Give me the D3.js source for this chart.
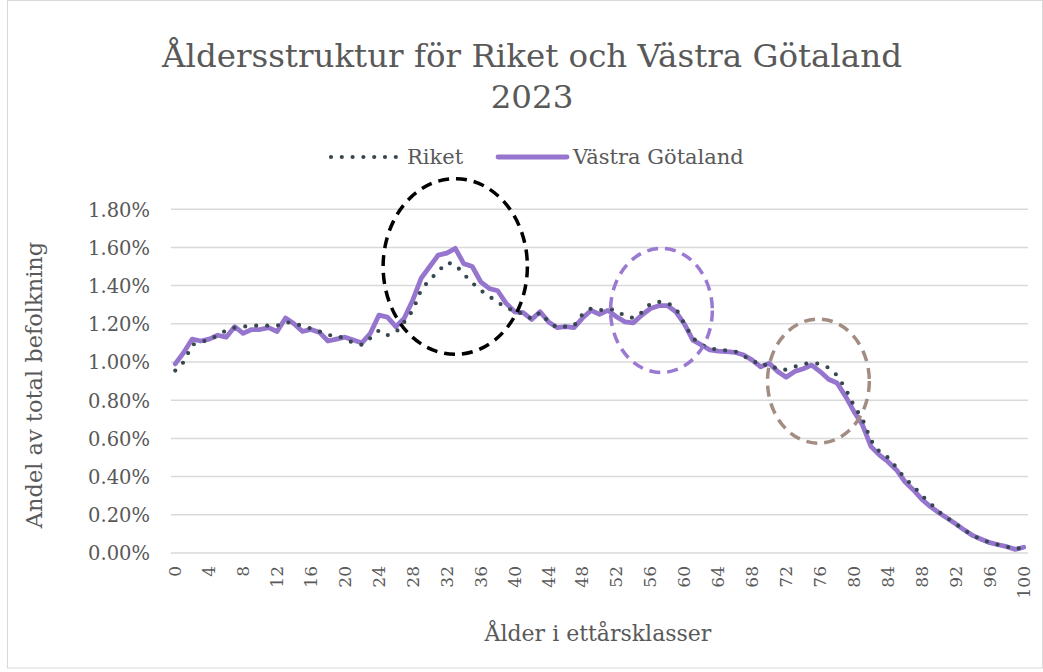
<!DOCTYPE html>
<html>
<head>
<meta charset="utf-8">
<script src="https://cdn.jsdelivr.net/npm/d3@7"></script>
<style>
  body { margin: 0; background: #fff; }
  text { font-family: "DejaVu Serif", Georgia, serif; fill: #595959; }
</style>
</head>
<body>
<div id="chart"></div>
<script>
// ages 0..100 (ettårsklasser)
var ages = d3.range(0, 101);
var xTickAges = d3.range(0, 101, 4);
var yTicks = [0, 0.2, 0.4, 0.6, 0.8, 1.0, 1.2, 1.4, 1.6, 1.8];

// andel av total befolkning, %
var riket = [
  0.955, 1.00, 1.09, 1.105, 1.115, 1.14, 1.165, 1.18, 1.185, 1.19,
  1.19, 1.19, 1.19, 1.21, 1.20, 1.19, 1.175, 1.16, 1.14, 1.14,
  1.12, 1.10, 1.09, 1.125, 1.165, 1.14, 1.155, 1.21, 1.27, 1.38,
  1.43, 1.475, 1.52, 1.51, 1.46, 1.415, 1.375, 1.345, 1.31, 1.29,
  1.26, 1.255, 1.225, 1.26, 1.21, 1.18, 1.185, 1.19, 1.25, 1.28,
  1.27, 1.28, 1.27, 1.24, 1.23, 1.26, 1.305, 1.315, 1.31, 1.28,
  1.20, 1.125, 1.09, 1.07, 1.065, 1.06, 1.055, 1.03, 1.01, 0.98,
  0.99, 0.96, 0.96, 0.975, 0.99, 0.995, 0.99, 0.97, 0.93, 0.86,
  0.77, 0.70, 0.59, 0.53, 0.50, 0.447, 0.39, 0.35, 0.30, 0.26,
  0.215, 0.183, 0.152, 0.12, 0.091, 0.072, 0.054, 0.043, 0.033, 0.02,
  0.03
];
var vastraGotaland = [
  0.99, 1.05, 1.12, 1.11, 1.12, 1.14, 1.13, 1.185, 1.15, 1.17,
  1.17, 1.18, 1.16, 1.23, 1.20, 1.16, 1.17, 1.155, 1.11, 1.12,
  1.13, 1.115, 1.10, 1.15, 1.245, 1.235, 1.185, 1.23, 1.325, 1.44,
  1.50, 1.56, 1.57, 1.595, 1.515, 1.50, 1.42, 1.385, 1.373, 1.307,
  1.263, 1.258, 1.223, 1.263, 1.21, 1.18, 1.185, 1.18, 1.23, 1.27,
  1.25, 1.27, 1.237, 1.21, 1.205, 1.246, 1.28, 1.295, 1.295, 1.263,
  1.20, 1.115, 1.09, 1.063, 1.057, 1.054, 1.05, 1.037, 1.01, 0.975,
  0.993, 0.95, 0.92, 0.95, 0.965, 0.984, 0.95, 0.91, 0.89, 0.82,
  0.74, 0.67, 0.557, 0.513, 0.478, 0.435, 0.373, 0.33, 0.281, 0.243,
  0.211, 0.182, 0.152, 0.12, 0.091, 0.072, 0.054, 0.043, 0.033, 0.019,
  0.03
];

// highlighted regions: centre age, centre value, half width (years), half height (%)
var highlights = [
  { age: 33, value: 1.50, rx: 8.5, ry: 0.46, color: "#000000" },
  { age: 57.3, value: 1.27, rx: 6.0, ry: 0.325, color: "#9a79d2" },
  { age: 75.8, value: 0.90, rx: 6.0, ry: 0.325, color: "#a38d83" }
];

var W = 1043, H = 672;
var margin = { left: 171, right: 15, top: 200, bottom: 119 };
var plotW = W - margin.left - margin.right;   // 857

var svg = d3.select("#chart").append("svg").attr("width", W).attr("height", H);

svg.append("rect").attr("x", 7.5).attr("y", 0.5).attr("width", W - 8).attr("height", H - 4.5)
  .attr("fill", "#fff").attr("stroke", "#d9d9d9").attr("stroke-width", 1);

var x = d3.scaleBand().domain(ages).range([margin.left, margin.left + plotW]);
var cx = function (a) { return x(a) + x.bandwidth() / 2; };
// continuous version of the category axis, for the annotations
var xc = d3.scaleLinear().domain([0, 100]).range([cx(0), cx(100)]);
var y = d3.scaleLinear().domain([0, 1.8]).range([553, 553 - 1.8 / 0.2 * 38.2]);

// title
svg.append("text").attr("x", 532).attr("y", 67).attr("text-anchor", "middle")
  .style("font-size", "32.5px").text("Åldersstruktur för Riket och Västra Götaland");
svg.append("text").attr("x", 532).attr("y", 108).attr("text-anchor", "middle")
  .style("font-size", "32.5px").text("2023");

// grid
svg.append("g").selectAll("line").data(yTicks).join("line")
  .attr("x1", margin.left).attr("x2", margin.left + plotW)
  .attr("y1", d => y(d)).attr("y2", d => y(d))
  .attr("stroke", "#d9d9d9").attr("stroke-width", 1.5);

// y axis labels
var yAxis = d3.axisLeft(y).tickValues(yTicks).tickSize(0).tickPadding(0)
  .tickFormat(d => d3.format(".2f")(d) + "%");
var gy = svg.append("g").attr("transform", "translate(150,0)").call(yAxis);
gy.select(".domain").remove();
gy.selectAll("text").style("font-size", "19.5px").attr("dy", "0.35em");

// x axis labels
var xAxis = d3.axisBottom(x).tickValues(xTickAges).tickSize(0).tickPadding(0);
var gx = svg.append("g").attr("transform", "translate(0,553)").call(xAxis);
gx.select(".domain").remove();
gx.selectAll("text").style("font-size", "17px")
  .attr("transform", "rotate(-90)").attr("text-anchor", "end")
  .attr("x", -13).attr("y", 0).attr("dy", "0.35em");

// axis titles
svg.append("text").attr("transform", "translate(42,385) rotate(-90)").attr("text-anchor", "middle")
  .style("font-size", "22.5px").text("Andel av total befolkning");
svg.append("text").attr("x", 598).attr("y", 641).attr("text-anchor", "middle")
  .style("font-size", "22px").text("Ålder i ettårsklasser");

// lines
var line = d3.line().x((d, i) => cx(ages[i])).y(d => y(d));

svg.append("path").datum(vastraGotaland).attr("d", line)
  .attr("fill", "none").attr("stroke", "#9575cd").attr("stroke-width", 4.8)
  .attr("stroke-linejoin", "round").attr("stroke-linecap", "round");

svg.append("path").datum(riket).attr("d", line)
  .attr("fill", "none").attr("stroke", "#37474f").attr("stroke-width", 4.2)
  .attr("stroke-dasharray", "0 11").attr("stroke-linecap", "round");

// highlight ellipses
svg.append("g").selectAll("ellipse").data(highlights).join("ellipse")
  .attr("cx", d => xc(d.age)).attr("cy", d => y(d.value))
  .attr("rx", d => xc(d.rx) - xc(0)).attr("ry", d => y(0) - y(d.ry))
  .attr("fill", "none").attr("stroke", d => d.color)
  .attr("stroke-width", 3.5).attr("stroke-dasharray", "11 7");

// legend
var lg = svg.append("g");
lg.append("line").attr("x1", 331).attr("x2", 396).attr("y1", 157).attr("y2", 157)
  .attr("stroke", "#37474f").attr("stroke-width", 4.2)
  .attr("stroke-dasharray", "0 10.8").attr("stroke-linecap", "round");
lg.append("text").attr("x", 407).attr("y", 164).style("font-size", "21px").text("Riket");
lg.append("line").attr("x1", 498).attr("x2", 567).attr("y1", 157).attr("y2", 157)
  .attr("stroke", "#9575cd").attr("stroke-width", 4.8).attr("stroke-linecap", "round");
lg.append("text").attr("x", 573).attr("y", 164).style("font-size", "21px").text("Västra Götaland");
</script>
</body>
</html>
